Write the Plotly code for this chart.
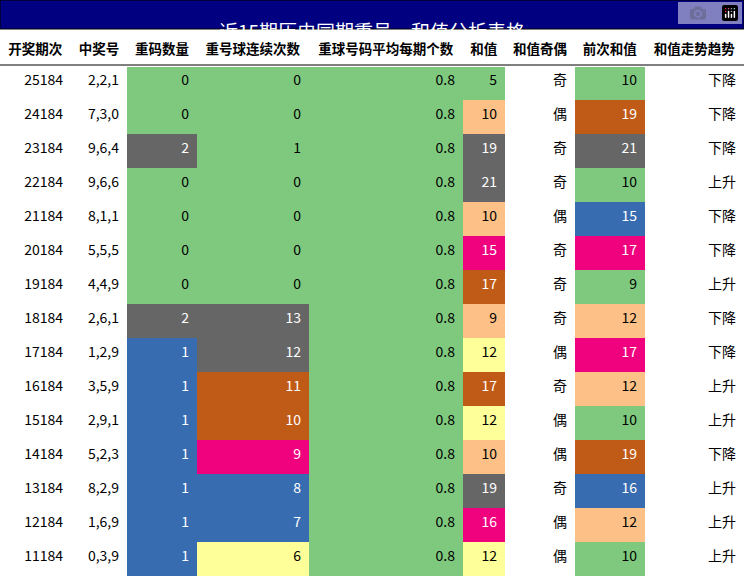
import plotly.graph_objects as go

headers = ["开奖期次","中奖号","重码数量","重号球连续次数","重球号码平均每期个数","和值","和值奇偶","前次和值","和值走势趋势"]
periods = ["25184","24184","23184","22184","21184","20184","19184","18184","17184","16184","15184","14184","13184","12184","11184"]
numbers = ["2,2,1","7,3,0","9,6,4","9,6,6","8,1,1","5,5,5","4,4,9","2,6,1","1,2,9","3,5,9","2,9,1","5,2,3","8,2,9","1,6,9","0,3,9"]
repeat_cnt = [0,0,2,0,0,0,0,2,1,1,1,1,1,1,1]
consec = [0,0,1,0,0,0,0,13,12,11,10,9,8,7,6]
avg = [0.8]*15
sums = [5,10,19,21,10,15,17,9,12,17,12,10,19,16,12]
parity = ["奇","偶","奇","奇","偶","奇","奇","奇","偶","奇","偶","偶","奇","偶","偶"]
prev_sum = [10,19,21,10,15,17,9,12,17,12,10,19,16,12,10]
trend = ["下降","下降","下降","上升","下降","下降","上升","下降","下降","上升","上升","下降","上升","上升","上升"]

G,P,Y,B,K,R,D = "#7fc97f","#fdc086","#ffff99","#386cb0","#f0027f","#bf5b17","#666666"
def c_rep(v): return {0:G,1:B,2:D}[v]
def c_con(v):
    if v<=1: return G
    if v==6: return Y
    if v<=8: return B
    if v==9: return K
    if v<=11: return R
    return D
def c_sum(v):
    if v<=5: return G
    if v<=10: return P
    if v<=12: return Y
    if v<=16: return K
    if v<=17: return R
    return D
def c_prev(v):
    if v<=10: return G
    if v<=12: return P
    if v<=16: return B
    if v<=17: return K
    if v<=19: return R
    return D
W = "white"
dark = {B,K,R,D}
fills = [[W]*15,[W]*15,[c_rep(v) for v in repeat_cnt],[c_con(v) for v in consec],[G]*15,
         [c_sum(v) for v in sums],[W]*15,[c_prev(v) for v in prev_sum],[W]*15]
fcols = [["white" if c in dark else "black" for c in col] for col in fills]
vals = [periods,numbers,repeat_cnt,consec,avg,sums,parity,prev_sum,trend]

fig = go.Figure(go.Table(
    columnwidth=[71,56,70,112,154,42,70,70,99],
    header=dict(values=["<b>%s</b>"%h for h in headers], fill_color="white", line_color="white",
                align="center", font=dict(size=13.5,color="black",family="Noto Sans CJK SC"), height=35),
    cells=dict(values=vals, fill_color=fills, line_color=fills, align="right",
               font=dict(size=14,color=fcols,family="Noto Sans CJK SC"), height=34),
    domain=dict(x=[0,1],y=[0,1-30/576])))
fig.add_shape(type="rect",xref="paper",yref="paper",x0=0,x1=1,y0=1-29/576,y1=1,
              fillcolor="#000080",line=dict(color="black",width=1))
fig.add_shape(type="line",xref="paper",yref="paper",x0=0,x1=1,y0=1-65/576,y1=1-65/576,
              line=dict(color="black",width=1))
fig.add_annotation(text="近15期历史同期重号，和值分析表格",xref="paper",yref="paper",x=0.5,y=1-15/576,
                   showarrow=False,font=dict(size=19,color="white",family="Noto Sans CJK SC"))
fig.update_layout(width=744,height=576,margin=dict(l=0,r=0,t=0,b=0),paper_bgcolor="white")
fig.write_html("out.html", post_script="document.body.style.margin='0';document.body.style.overflow='hidden';")
